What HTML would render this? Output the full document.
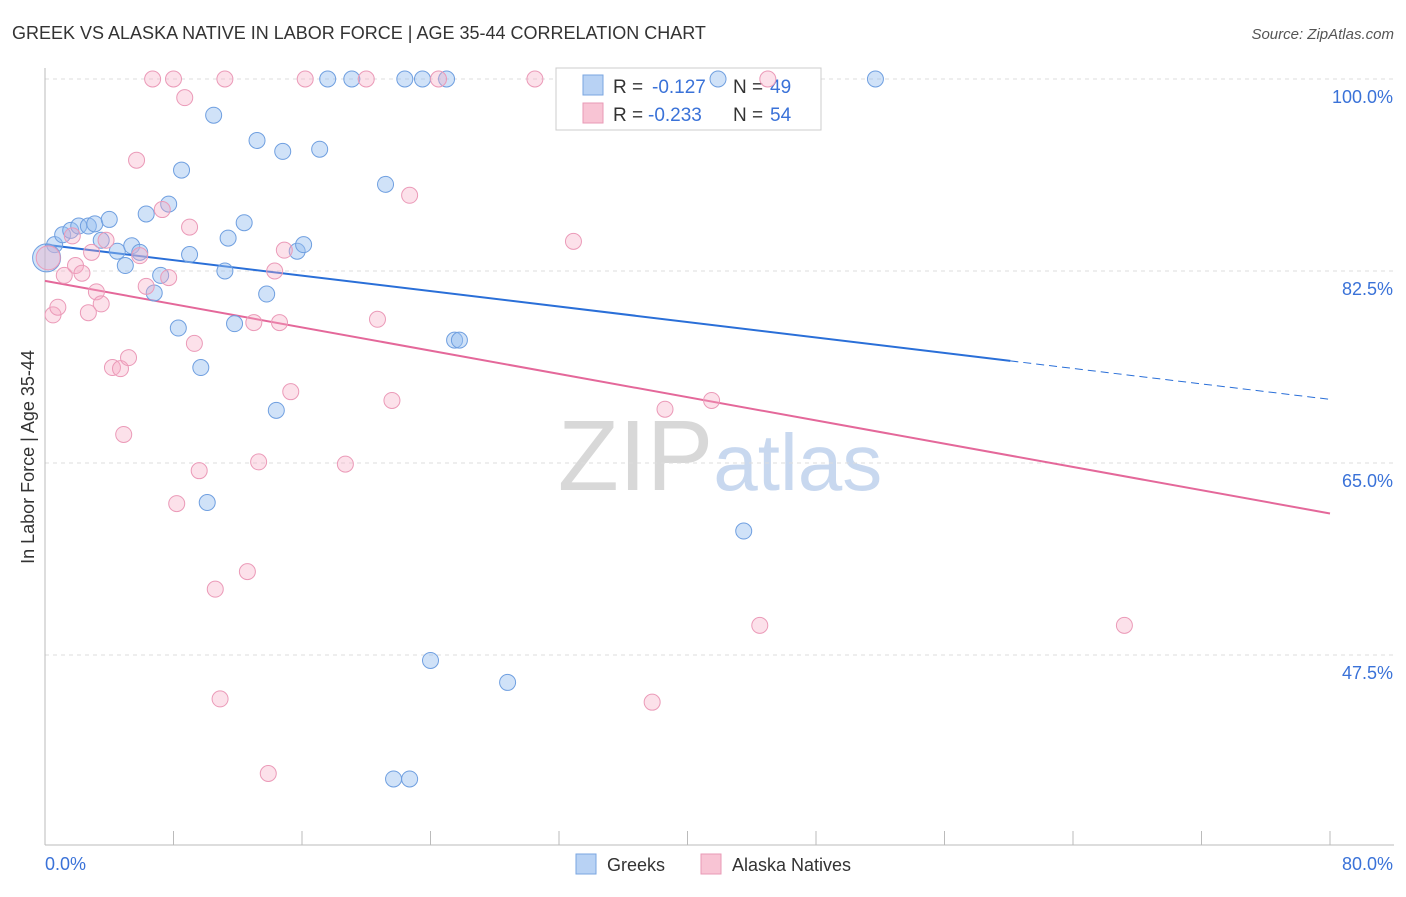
<!DOCTYPE html>
<html><head><meta charset="utf-8">
<style>
body{margin:0;background:#fff;font-family:"Liberation Sans",sans-serif;}
svg text{font-family:"Liberation Sans",sans-serif;}
</style></head>
<body>
<svg id="chart" width="1406" height="892">
<text x="12" y="39" font-size="18" fill="#333">GREEK VS ALASKA NATIVE IN LABOR FORCE | AGE 35-44 CORRELATION CHART</text>
<text x="1394" y="39" font-size="15" fill="#555" font-style="italic" text-anchor="end">Source: ZipAtlas.com</text>
<text x="34" y="457" font-size="18" fill="#333" text-anchor="middle" transform="rotate(-90 34 457)">In Labor Force | Age 35-44</text>
<text x="720" y="490" font-size="100" fill="#ddd" text-anchor="middle" font-family="Liberation Serif"><tspan fill="#d8d8d8">ZIP</tspan><tspan fill="#c8d8ef" font-family="Liberation Sans" font-size="80">atlas</tspan></text>
<g id="grid"></g>
<g id="axes"></g>
<g>
<rect x="556" y="68" width="265" height="62" fill="#fff" stroke="#ccc"/>
<rect x="583" y="75" width="20" height="20" fill="#b8d2f4" stroke="#7aa6e0"/>
<rect x="583" y="103" width="20" height="20" fill="#f8c4d4" stroke="#e89ab6"/>
<text x="613" y="93" font-size="19" fill="#333">R =</text>
<text x="652" y="93" font-size="19" fill="#3a72d8">-0.127</text>
<text x="733" y="93" font-size="19" fill="#333">N =</text>
<text x="770" y="93" font-size="19" fill="#3a72d8">49</text>
<text x="613" y="121" font-size="19" fill="#333">R =</text>
<text x="648" y="121" font-size="19" fill="#3a72d8">-0.233</text>
<text x="733" y="121" font-size="19" fill="#333">N =</text>
<text x="770" y="121" font-size="19" fill="#3a72d8">54</text>
</g>
<g id="lines"></g>
<g id="pts"></g>
<g>
<rect x="576" y="854" width="20" height="20" fill="#b8d2f4" stroke="#7aa6e0"/>
<text x="607" y="871" font-size="18" fill="#333">Greeks</text>
<rect x="701" y="854" width="20" height="20" fill="#f8c4d4" stroke="#e89ab6"/>
<text x="732" y="871" font-size="18" fill="#333">Alaska Natives</text>
</g>
</svg>
<script>
const yTicks=[100,82.5,65,47.5];
const yTickLabels=["100.0%","82.5%","65.0%","47.5%"];
const xTickLabels=["0.0%","80.0%"];
const greekX=[0.6,1.1,1.6,2.1,2.7,3.1,4.0,3.5,4.5,5.0,5.4,5.9,6.3,6.8,7.2,7.7,8.3,8.5,9.0,9.7,10.1,10.5,11.2,11.4,11.8,12.4,13.2,13.8,14.4,14.8,15.7,16.1,17.1,17.6,19.1,21.2,21.7,22.4,22.7,23.5,24.0,25.0,25.5,25.8,28.8,41.9,43.5,51.7,0.1];
const greekY=[84.9,85.8,86.2,86.6,86.6,86.8,87.2,85.3,84.3,83.0,84.8,84.2,87.7,80.5,82.1,88.6,77.3,91.7,84.0,73.7,61.4,96.7,82.5,85.5,77.7,86.9,94.4,80.4,69.8,93.4,84.3,84.9,93.6,100,100,90.4,36.2,100,36.2,100,47.0,100,76.2,76.2,45.0,100,58.8,100,83.7];
const alaskaX=[0.2,0.5,0.8,1.2,1.7,1.9,2.3,2.7,2.9,3.2,3.5,3.8,4.2,4.7,4.9,5.2,5.7,5.9,6.3,6.7,7.3,7.7,8.0,8.2,8.7,9.0,9.3,9.6,10.6,10.9,11.2,12.6,13.0,13.3,13.9,14.3,14.6,14.9,15.3,16.2,18.7,20.0,20.7,21.6,22.7,24.5,30.5,32.9,37.8,38.6,41.5,44.5,45.0,67.2];
const alaskaY=[83.7,78.5,79.2,82.1,85.7,83.0,82.3,78.7,84.2,80.6,79.5,85.3,73.7,73.6,67.6,74.6,92.6,83.9,81.1,100,88.1,81.9,100,61.3,98.3,86.5,75.9,64.3,53.5,43.5,100,55.1,77.8,65.1,36.7,82.5,77.8,84.4,71.5,100,64.9,100,78.1,70.7,89.4,100,100,85.2,43.2,69.9,70.7,50.2,100,50.2];
const greekTrend=[84.9,70.8];
const alaskaTrend=[81.6,60.4];
const NS="http://www.w3.org/2000/svg";
const X=v=>45+v*1285/80;
const Y=v=>79+(100-v)*192/17.5;
function mk(tag,attrs,parent){const e=document.createElementNS(NS,tag);for(const k in attrs)e.setAttribute(k,attrs[k]);document.getElementById(parent).appendChild(e);return e;}
yTicks.forEach((t,i)=>{
 const l=mk('line',{x1:45,x2:1394,y1:Y(t),y2:Y(t),stroke:'#ddd','stroke-dasharray':'4,4'},'grid');
 
 
 const tx=mk('text',{x:1393,y:Y(t)+24,'font-size':18,fill:'#3a72d8','text-anchor':'end'},'grid');
 tx.textContent=yTickLabels[i];
 
 
});
let a=mk('line',{x1:45,x2:45,y1:68,y2:845,stroke:'#bbb'},'axes');


a=mk('line',{x1:45,x2:1394,y1:845,y2:845,stroke:'#bbb'},'axes');


for(let i=0;i<=10;i++){
 const t=mk('line',{x1:X(i*8),x2:X(i*8),y1:831,y2:845,stroke:'#bbb'},'axes');
 
 
}
[[0,'start'],[80,'end']].forEach((d,i)=>{
 const tx=mk('text',{x:i?1393:45,y:870,'font-size':18,fill:'#3a72d8','text-anchor':d[1]},'axes');
 tx.textContent=xTickLabels[i];
 
 
});
function lineAt(tr,x){return tr[0]+(tr[1]-tr[0])*x/80;}
let l=mk('line',{x1:X(0),y1:Y(lineAt(greekTrend,0)),x2:X(60.1),y2:Y(lineAt(greekTrend,60.1)),stroke:'#2a6fd8','stroke-width':2},'lines');


l=mk('line',{x1:X(60.1),y1:Y(lineAt(greekTrend,60.1)),x2:X(80),y2:Y(lineAt(greekTrend,80)),stroke:'#2a6fd8','stroke-width':1,'stroke-dasharray':'8,5'},'lines');


l=mk('line',{x1:X(0),y1:Y(alaskaTrend[0]),x2:X(80),y2:Y(alaskaTrend[1]),stroke:'#e4689a','stroke-width':2},'lines');


greekX.forEach((v,i)=>{
 const c=mk('circle',{cx:X(v),cy:Y(greekY[i]),r:i==greekX.length-1?14:8,fill:'rgba(150,190,240,0.45)',stroke:'#6f9fe0','stroke-width':1},'pts');
 
 
});
alaskaX.forEach((v,i)=>{
 const c=mk('circle',{cx:X(v),cy:Y(alaskaY[i]),r:i==0?12:8,fill:'rgba(245,170,195,0.35)',stroke:'#eb9ab8','stroke-width':1},'pts');
 
 
});
</script>
</body></html>
